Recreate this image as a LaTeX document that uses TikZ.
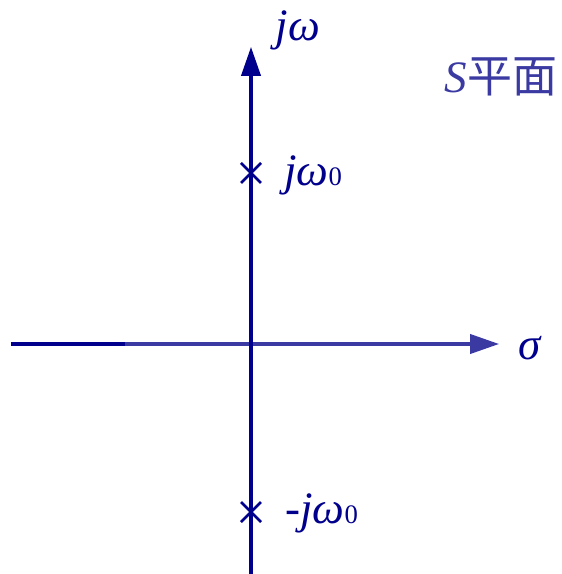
\documentclass[tikz,border=0pt]{standalone}
\usepackage{fontspec}
\setmainfont{Liberation Serif}
\newfontfamily\cjk{Noto Sans CJK SC}
\usepackage{xcolor}
\usetikzlibrary{arrows.meta, calc, positioning}

\definecolor{navy}{RGB}{0,0,140}
\definecolor{paleblue}{RGB}{58,58,162}

\tikzset{
    axisline/.style={line width=2.2pt, navy},
    axistip/.style={-{Triangle[length=0.72cm, width=0.48cm]}},
    polemark/.style={line width=2pt, navy},
    axislabel/.style={text=navy, font=\fontsize{32}{38}\selectfont\itshape, inner sep=0pt},
}

\begin{document}
\begin{tikzpicture}

    % -----------------------------------------------------------------
    % 1. KHUNG VÀ CÁC ĐIỂM CHÍNH
    % -----------------------------------------------------------------
    \useasboundingbox (-6.275,-5.75) rectangle (7.75,8.6);
    \coordinate (O) at (0,0);
    \coordinate (L) at (-6,0);
    \coordinate (K) at (-3.15,0);
    \coordinate (R) at (6.2,0);
    \coordinate (D) at (0,-5.75);
    \coordinate (U) at (0,7.425);
    \coordinate (P1) at (0,4.275);
    \coordinate (P2) at (0,-4.2);

    % -----------------------------------------------------------------
    % 2. TRỤC THỰC VÀ TRỤC ẢO
    % -----------------------------------------------------------------
    % Trục sigma: đoạn trái đậm, đoạn phải nhạt hơn
    \draw[axisline] (L) -- (K);
    \draw[axisline, paleblue, axistip] (K) -- (R);

    % Trục j omega
    \draw[axisline, axistip] (D) -- (U);

    % -----------------------------------------------------------------
    % 3. CÁC CỰC (DẤU X)
    % -----------------------------------------------------------------
    \foreach \p in {P1, P2} {
        \draw[polemark] ($(\p)+(-0.25,-0.25)$) -- ($(\p)+(0.25,0.25)$);
        \draw[polemark] ($(\p)+(-0.25,0.25)$) -- ($(\p)+(0.25,-0.25)$);
    }

    % -----------------------------------------------------------------
    % 4. NHÃN
    % -----------------------------------------------------------------
    \node[axislabel] (jw) at (1.175,7.85) {jω};
    \node[axislabel] (sigma) at (6.975,-0.1) {σ};
    \node[axislabel, anchor=west] (jw0) at (0.83,4.225) {jω{\upshape\fontsize{19}{23}\selectfont 0}};
    \node[axislabel, anchor=west] (mjw0) at (0.85,-4.225) {-jω{\upshape\fontsize{19}{23}\selectfont 0}};
    \node[axislabel, text=paleblue] (plane) at (6.25,6.675) {S{\upshape\cjk 平面}};

\end{tikzpicture}
\end{document}
